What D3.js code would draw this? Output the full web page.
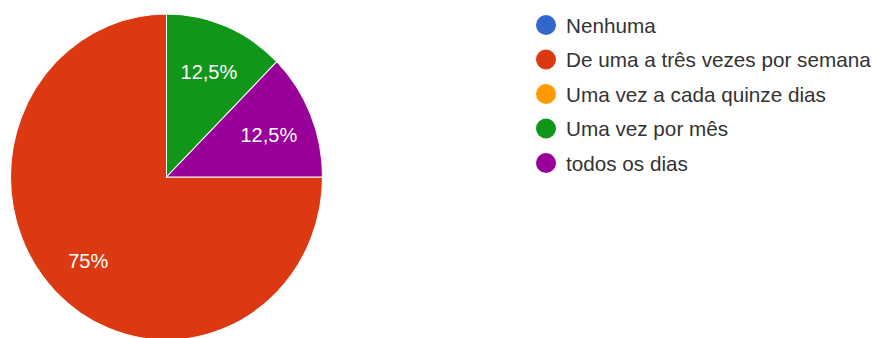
<!DOCTYPE html>
<html>
<head>
<meta charset="utf-8">
<script src="https://cdn.jsdelivr.net/npm/d3@7"></script>
<style>
  body { margin: 0; background: #fff; }
  svg { display: block; }
</style>
</head>
<body>
<svg id="chart"></svg>
<script>
var categories = [
  "Nenhuma",
  "De uma a três vezes por semana",
  "Uma vez a cada quinze dias",
  "Uma vez por mês",
  "todos os dias"
];
var values = [0, 75, 0, 12.5, 12.5];
var labels = ["0%", "75%", "0%", "12,5%", "12,5%"];
var colors = ["#3366cc", "#dc3912", "#ff9900", "#109618", "#990099"];

var width = 875;
var height = 338;
var cx = 166.5;
var cy = 177;
var radius = 156;

var svg = d3.select("#chart")
  .attr("width", width)
  .attr("height", height);

var data = [];
for (var i = 0; i < categories.length; i++) {
  data.push({ name: categories[i], value: values[i], label: labels[i], color: colors[i] });
}

var pie = d3.pie()
  .sort(null)
  .value(function (d) { return d.value; })
  .startAngle(Math.PI / 2)
  .endAngle(Math.PI / 2 + 2 * Math.PI);

var arc = d3.arc().innerRadius(0).outerRadius(radius);
var labelArc = d3.arc().innerRadius(radius * 0.71).outerRadius(radius * 0.71);

var g = svg.append("g")
  .attr("transform", "translate(" + cx + "," + cy + ") scale(1,1.045)");

var arcs = pie(data).filter(function (d) { return d.data.value > 0; });

g.selectAll("path")
  .data(arcs)
  .enter()
  .append("path")
  .attr("d", arc)
  .style("fill", function (d) { return d.data.color; })
  .style("stroke", "#fff")
  .style("stroke-width", 1);

// slice labels, not stretched
svg.selectAll(".slice-label")
  .data(arcs)
  .enter()
  .append("text")
  .attr("class", "slice-label")
  .attr("x", function (d) { return cx + labelArc.centroid(d)[0]; })
  .attr("y", function (d) { return cy + 2 + labelArc.centroid(d)[1] * 1.045; })
  .attr("text-anchor", "middle")
  .attr("dominant-baseline", "central")
  .style("font-family", "'Liberation Sans', Arial, sans-serif")
  .style("font-size", "20px")
  .style("fill", "#fff")
  .text(function (d) { return d.data.label; });

// legend
var legendX = 546;
var legendY = 25;
var legendStep = 34.5;

var legend = svg.selectAll(".legend")
  .data(data)
  .enter()
  .append("g")
  .attr("class", "legend")
  .attr("transform", function (d, i) {
    return "translate(" + legendX + "," + (legendY + i * legendStep) + ")";
  });

legend.append("circle")
  .attr("r", 10)
  .style("fill", function (d) { return d.color; });

legend.append("text")
  .attr("x", 20)
  .attr("dominant-baseline", "central")
  .style("font-family", "'Liberation Sans', Arial, sans-serif")
  .style("font-size", "20.7px")
  .style("fill", "#333")
  .text(function (d) { return d.name; });
</script>
</body>
</html>
